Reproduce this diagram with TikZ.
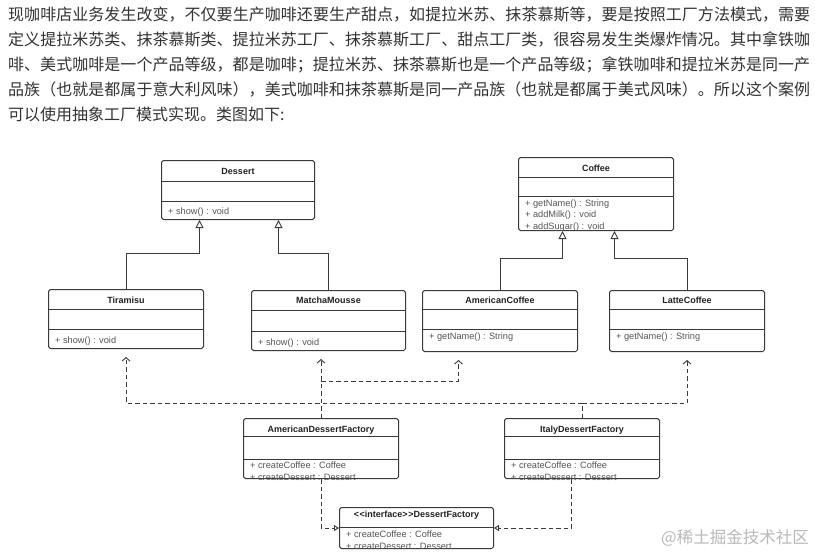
\documentclass[tikz,border=0pt]{standalone}
\usepackage{fontspec}
\setmainfont{Liberation Sans}
\newfontfamily\cjk{Noto Sans CJK SC}
\usetikzlibrary{arrows.meta,calc}
\definecolor{lc}{HTML}{3A3A3A}
\definecolor{tc}{HTML}{222222}
\definecolor{mc}{HTML}{555555}
\definecolor{pc}{HTML}{333333}
\tikzset{
 cls/.style={draw=lc, line width=1pt, rounded corners=1.8pt, anchor=north west, inner sep=0pt, fill=white},
 ttl/.style={font=\fontsize{9}{10}\selectfont\bfseries, text=tc, anchor=base, inner sep=0pt},
 meth/.style={font=\fontsize{9.2}{10}\selectfont, text=mc, anchor=base west, inner sep=0pt},
 divl/.style={draw=lc, line width=0.9pt},
 inh/.style={draw=lc, line width=0.9pt, -{Triangle[open, length=8pt, width=8pt]}},
 dep/.style={draw=lc, line width=0.9pt, dash pattern=on 4.5pt off 3pt, -{Straight Barb[length=3.5pt, width=8pt]}},
 dline/.style={draw=lc, line width=0.9pt, dash pattern=on 4.5pt off 3pt},
 real/.style={draw=lc, line width=0.9pt, dash pattern=on 4.5pt off 3pt, -{Triangle[open, length=5pt, width=6pt]}},
}
% name, x, y, w, h, title, title baseline offset, div1 offset, div2 offset
\newcommand\umlcls[9]{%
 \node[cls, minimum width=#4pt, minimum height=#5pt] (#1) at (#2,#3) {};
 \node[ttl] (#1-t) at ($(#1.north)+(0,#7)$) {#6};
 \draw[divl] ($(#1.north west)+(0,#8)$) -- ($(#1.north east)+(0,#8)$);
 \draw[divl] ($(#1.north west)+(0,#9)$) -- ($(#1.north east)+(0,#9)$);
}
\begin{document}
\begin{tikzpicture}[x=1pt,y=-1pt]
\path[use as bounding box, fill=white] (0,0) rectangle (815,555);

% paragraph
\node[anchor=base west, text width=802pt, inner sep=0pt, align=justify,
      font=\cjk\fontsize{16}{25}\selectfont, text=pc] (para) at (8,20)
{\XeTeXlinebreaklocale "zh"\XeTeXlinebreakskip=0pt plus 3pt\relax
现咖啡店业务发生改变，不仅要生产咖啡还要生产甜点，如提拉米苏、抹茶慕斯等，要是按照工厂方法模式，需要\linebreak%
定义提拉米苏类、抹茶慕斯类、提拉米苏工厂、抹茶慕斯工厂、甜点工厂类，很容易发生类爆炸情况。其中拿铁咖\linebreak%
啡、美式咖啡是一个产品等级，都是咖啡；提拉米苏、抹茶慕斯也是一个产品等级；拿铁咖啡和提拉米苏是同一产\linebreak%
品族（也就是都属于意大利风味），美式咖啡和抹茶慕斯是同一产品族（也就是都属于美式风味）。所以这个案例\linebreak%
可以使用抽象工厂模式实现。类图如下:};

% classes
\umlcls{dessert}{161}{160}{153}{59}{Dessert}{14}{21}{41}
\node[meth] (dessert-m1) at ($(dessert.north west)+(7,54)$) {+ show() : void};

\umlcls{coffee}{518}{157}{155}{73}{Coffee}{14}{20}{39}
\node[meth] (coffee-m1) at ($(coffee.north west)+(7,49)$) {+ getName() : String};
\node[meth] (coffee-m2) at ($(coffee.north west)+(7,60)$) {+ addMilk() : void};
\node[meth] (coffee-m3) at ($(coffee.north west)+(7,72.5)$) {+ addSugar() : void};

\umlcls{tira}{48}{289}{155}{59}{Tiramisu}{14}{20}{40}
\node[meth] (tira-m1) at ($(tira.north west)+(7,54)$) {+ show() : void};

\umlcls{matcha}{251}{290}{154}{60}{MatchaMousse}{13}{20}{41}
\node[meth] (matcha-m1) at ($(matcha.north west)+(7,55)$) {+ show() : void};

\umlcls{amc}{422}{290}{155}{61}{AmericanCoffee}{13}{19}{39}
\node[meth] (amc-m1) at ($(amc.north west)+(7,49)$) {+ getName() : String};

\umlcls{latte}{609}{290}{155}{61}{LatteCoffee}{13}{19}{39}
\node[meth] (latte-m1) at ($(latte.north west)+(7,49)$) {+ getName() : String};

\umlcls{adf}{243}{418}{155}{60}{AmericanDessertFactory}{14}{18}{41}
\node[meth] (adf-m1) at ($(adf.north west)+(7,50)$) {+ createCoffee : Coffee};
\node[meth] (adf-m2) at ($(adf.north west)+(7,62.5)$) {+ createDessert : Dessert};

\umlcls{idf}{504}{418}{155}{60}{ItalyDessertFactory}{14}{18}{41}
\node[meth] (idf-m1) at ($(idf.north west)+(7,50)$) {+ createCoffee : Coffee};
\node[meth] (idf-m2) at ($(idf.north west)+(7,62.5)$) {+ createDessert : Dessert};

\node[cls, minimum width=154pt, minimum height=41pt] (iface) at (339,507) {};
\node[ttl] (iface-t) at ($(iface.north)+(0,10)$) {<\kern0.6pt<interface>\kern0.6pt>DessertFactory};
\draw[divl] ($(iface.north west)+(0,20)$) -- ($(iface.north east)+(0,20)$);
\node[meth] (iface-m1) at ($(iface.north west)+(7,30)$) {+ createCoffee : Coffee};
\node[meth] (iface-m2) at ($(iface.north west)+(7,42.5)$) {+ createDessert : Dessert};

% levels
\coordinate (yA) at (0,253);
\coordinate (yB) at (0,258);
\coordinate (yC) at (0,381);
\coordinate (yD) at (0,403);

% inheritance
\draw[inh] (tira.north) -- (tira.north |- yA) -| ([xshift=-38.5pt]dessert.south);
\draw[inh] (matcha.north) -- (matcha.north |- yA) -| ([xshift=40.5pt]dessert.south);
\draw[inh] (amc.north) -- (amc.north |- yB) -| ([xshift=-33.5pt]coffee.south);
\draw[inh] (latte.north) -- (latte.north |- yB) -| ([xshift=18.5pt]coffee.south);

% dependencies
\coordinate (mA) at (adf.north |- matcha.south);
\draw[dep] (adf.north) -- ([yshift=-8pt]mA);
\draw[dep] (adf.north |- yC) -| ([xshift=-41.5pt,yshift=-8pt]amc.south);
\draw[dline] (idf.north) -- (idf.north |- yD);
\draw[dep] (idf.north |- yD) -| ([yshift=-8pt]tira.south);
\draw[dep] (idf.north |- yD) -| ([yshift=-8pt]latte.south);

% realization
\draw[real] (adf.south) |- (iface.west);
\draw[real] ([xshift=-10.5pt]idf.south) |- (iface.east);

% watermark
\node[anchor=east, inner sep=0pt, font=\cjk\fontsize{16.5}{18}\selectfont, text=gray!55] (wm) at (809,538) {@稀土掘金技术社区};
\end{tikzpicture}
\end{document}
